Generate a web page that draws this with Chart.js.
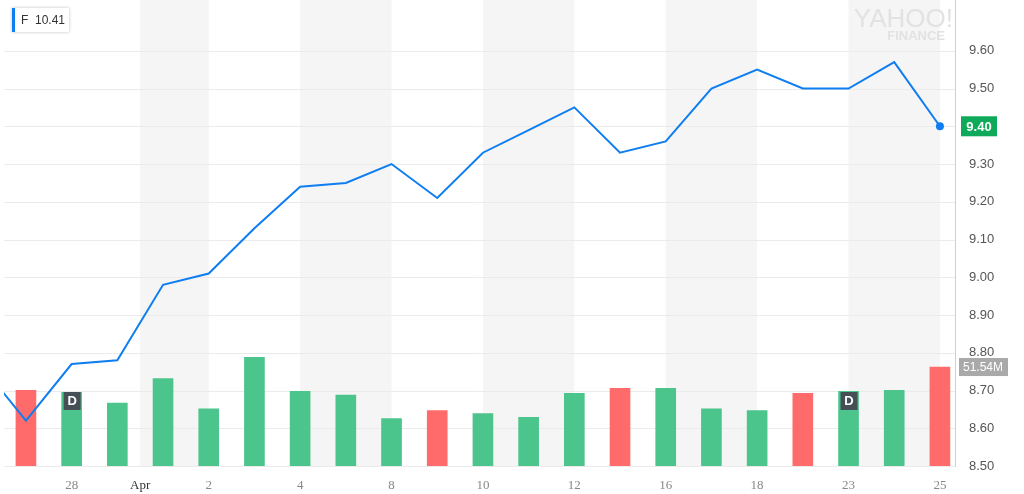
<!DOCTYPE html>
<html lang="en">
<head>
<meta charset="UTF-8" />
<title>F</title>
<script src="https://cdn.jsdelivr.net/npm/chart.js@4.4.1/dist/chart.umd.min.js"></script>
<style>
  html, body { margin: 0; padding: 0; background: #fff; }
  #wrap { position: relative; width: 1024px; height: 494px; }
</style>
</head>
<body>
<div id="wrap"><canvas id="c"></canvas></div>
<script>
// price closes, index -1 is the partial point off the left edge
const priceIdx = [-1, 0, 1, 2, 3, 4, 5, 6, 7, 8, 9, 10, 11, 12, 13, 14, 15, 16, 17, 18, 19, 20];
const prices = [8.77, 8.62, 8.77, 8.78, 8.98, 9.01, 9.13, 9.24, 9.25, 9.30, 9.21, 9.33, 9.39, 9.45, 9.33, 9.36, 9.50, 9.55, 9.50, 9.50, 9.57, 9.40];
// volume in millions, per day index 0..20
const volumes = [39.4, 38.4, 32.8, 45.5, 29.8, 56.6, 38.9, 36.9, 24.7, 28.8, 27.3, 25.3, 37.9, 40.4, 40.4, 29.8, 28.8, 37.9, 38.9, 39.4, 51.54];
const volDown = [1, 0, 0, 0, 0, 0, 0, 0, 0, 1, 0, 0, 0, 1, 0, 0, 0, 1, 0, 0, 1];
const tickPos = [1, 2.5, 4, 6, 8, 10, 12, 14, 16, 18, 20];
const tickText = ["28", "Apr", "2", "4", "8", "10", "12", "16", "18", "23", "25"];
const bands = [[2.5, 4], [6, 8], [10, 12], [14, 16], [18, 20]];
const dividendIdx = [1, 18];

const RED = "#ff6b6b", GREEN = "#4cc58c", BLUE = "#0f7ef0";

const bgPlugin = {
  id: "bg",
  beforeDatasetsDraw(chart) {
    const { ctx, chartArea: a, scales: { x } } = chart;
    ctx.save();
    ctx.fillStyle = "#f5f5f5";
    bands.forEach(([s, e]) => {
      const x0 = x.getPixelForValue(s), x1 = x.getPixelForValue(e);
      ctx.fillRect(x0, 0, x1 - x0, a.bottom);
    });
    const y = chart.scales.y;
    ctx.strokeStyle = "#ebebeb";
    ctx.lineWidth = 1;
    for (let v = 8.5; v <= 9.61; v += 0.1) {
      const py = Math.round(y.getPixelForValue(v)) + 0.5;
      ctx.beginPath(); ctx.moveTo(a.left, py); ctx.lineTo(a.right, py); ctx.stroke();
    }
    // watermark
    ctx.fillStyle = "#e2e2e2";
    ctx.textAlign = "right";
    ctx.font = "26px 'Liberation Sans'";
    ctx.fillText("YAHOO!", 953, 27);
    ctx.font = "bold 13px 'Liberation Sans'";
    ctx.fillText("FINANCE", 945, 40);
    ctx.restore();
  },
  afterDraw(chart) {
    const { ctx, chartArea: a, scales: { x, y, v } } = chart;
    ctx.save();
    // right axis line to the top
    ctx.strokeStyle = "#cfcfcf";
    ctx.beginPath(); ctx.moveTo(a.right + 0.5, 0); ctx.lineTo(a.right + 0.5, a.bottom); ctx.stroke();
    // dividend badges
    ctx.font = "bold 13px 'Liberation Sans'";
    ctx.textAlign = "center"; ctx.textBaseline = "middle";
    dividendIdx.forEach(i => {
      const px = x.getPixelForValue(i);
      ctx.fillStyle = "#464e56";
      ctx.fillRect(px - 8, 392, 17, 18);
      ctx.fillStyle = "#fff";
      ctx.fillText("D", px + 0.5, 401);
    });
    // last price marker
    const lx = x.getPixelForValue(20), ly = y.getPixelForValue(prices[prices.length - 1]);
    ctx.fillStyle = BLUE;
    ctx.beginPath(); ctx.arc(lx, ly, 4, 0, Math.PI * 2); ctx.fill();
    // right labels
    ctx.font = "bold 13px 'Liberation Sans'";
    ctx.fillStyle = "#0fa95a";
    ctx.fillRect(a.right + 6, ly - 10, 36, 20);
    ctx.fillStyle = "#fff";
    ctx.fillText(prices[prices.length - 1].toFixed(2), a.right + 24, ly + 1);
    const vy = v.getPixelForValue(volumes[volumes.length - 1]);
    ctx.font = "12px 'Liberation Sans'";
    ctx.fillStyle = "#a9a9a9";
    ctx.fillRect(a.right + 4, vy - 9, 49, 18);
    ctx.fillStyle = "#fff";
    ctx.fillText(volumes[volumes.length - 1].toFixed(2) + "M", a.right + 28, vy + 1);
    // legend chip
    ctx.shadowColor = "rgba(0,0,0,0.25)"; ctx.shadowBlur = 3;
    ctx.fillStyle = "#fff";
    ctx.fillRect(12, 8, 57, 24);
    ctx.shadowBlur = 0;
    ctx.fillStyle = BLUE;
    ctx.fillRect(12, 8, 3, 24);
    ctx.fillStyle = "#333";
    ctx.textAlign = "left";
    ctx.font = "12px 'Liberation Sans'";
    ctx.fillText("F  10.41", 21, 21);
    ctx.restore();
  }
};

new Chart(document.getElementById("c"), {
  type: "bar",
  data: {
    datasets: [
      {
        type: "line",
        data: priceIdx.map((i, k) => ({ x: i, y: prices[k] })),
        yAxisID: "y",
        borderColor: BLUE,
        borderWidth: 2,
        pointRadius: 0,
        tension: 0,
        order: 0
      },
      {
        type: "bar",
        data: volumes.map((val, i) => ({ x: i, y: val })),
        yAxisID: "v",
        backgroundColor: volDown.map(d => d ? RED : GREEN),
        barThickness: 20,
        order: 1
      }
    ]
  },
  options: {
    responsive: true,
    maintainAspectRatio: false,
    animation: false,
    layout: { padding: { left: 4, top: -13, right: 0 } },
    plugins: { legend: { display: false }, tooltip: { enabled: false } },
    scales: {
      x: {
        type: "linear",
        min: -0.48, max: 20.33,
        offset: false,
        afterBuildTicks(s) { s.ticks = tickPos.map(p => ({ value: p })); },
        afterFit(s) { s.height = 28; },
        grid: { display: false },
        border: { color: "#cfcfcf" },
        ticks: {
          autoSkip: false, maxRotation: 0, padding: 4,
          font: { family: "Liberation Serif", size: 13 },
          color: ctx => ctx.index === 1 ? "#333" : "#888",
          callback: (val, i) => tickText[i]
        }
      },
      y: {
        position: "right",
        min: 8.5, max: 9.698,
        afterBuildTicks(s) {
          s.ticks = [];
          for (let k = 0; k <= 11; k++) s.ticks.push({ value: +(8.5 + k * 0.1).toFixed(2) });
        },
        afterFit(s) { s.width = 69; },
        grid: { display: false },
        border: { color: "#cfcfcf" },
        ticks: {
          padding: 6,
          color: "#555",
          font: { family: "Liberation Sans", size: 13 },
          callback: v => v.toFixed(2)
        }
      },
      v: { display: false, min: 0, max: 235.5 }
    }
  },
  plugins: [bgPlugin]
});
</script>
</body>
</html>
